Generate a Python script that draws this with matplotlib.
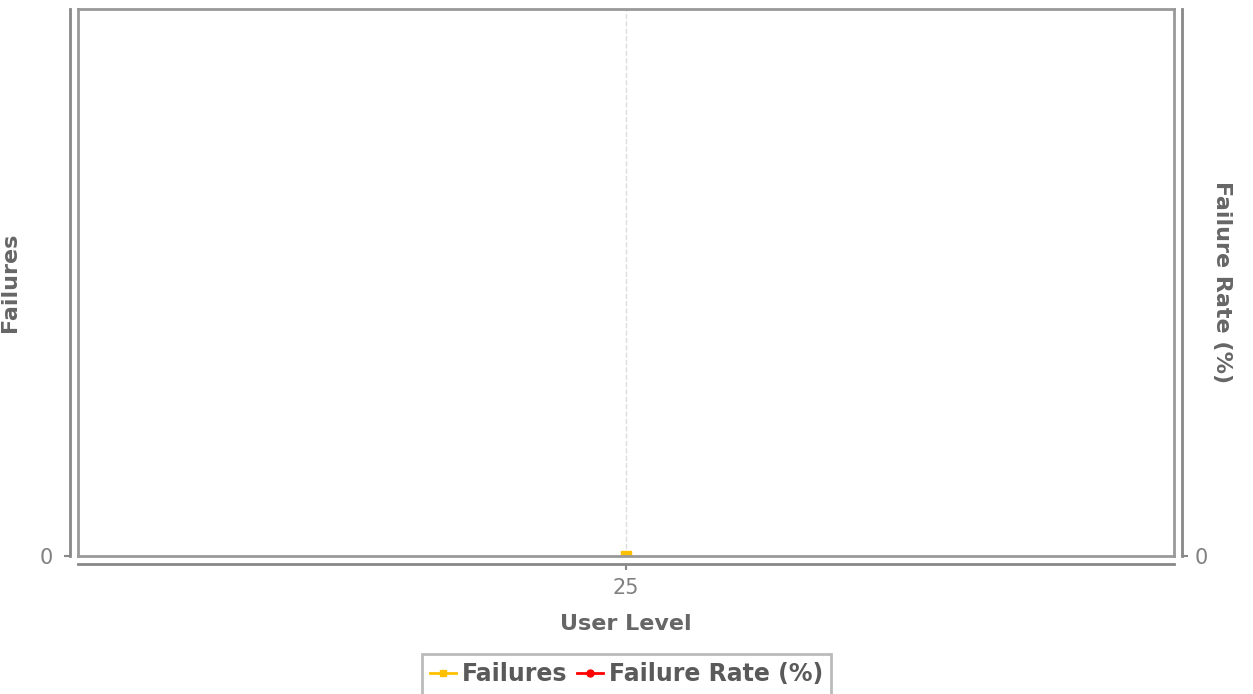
import matplotlib
matplotlib.use('Agg')
import matplotlib.pyplot as plt

# data
user_levels = [25]
failures = [0]
failure_rate = [0]

W, H = 1253, 694
fig = plt.figure(figsize=(W / 100, H / 100), dpi=100)
pos = [78 / W, (H - 556) / H, (1174 - 78) / W, (556 - 9) / H]

grey_txt = '#666666'
tick_txt = '#808080'
axis_col = '#888888'

# axes with the outward (offset) axis lines, ticks and labels
ax = fig.add_axes(pos)
ax.patch.set_visible(False)
ax.spines['top'].set_visible(False)
ax.spines['right'].set_visible(False)
for s in ('left', 'bottom'):
    ax.spines[s].set_position(('outward', 6))
    ax.spines[s].set_color(axis_col)
    ax.spines[s].set_linewidth(2)

x = list(range(len(user_levels)))
ax.set_xlim(-1, 1)
ax.set_ylim(0, 1)
ax.set_xticks(x)
ax.set_xticklabels([str(v) for v in user_levels])
ax.set_yticks([0])
ax.tick_params(axis='both', colors=axis_col, labelcolor=tick_txt, labelsize=15, length=4, width=1.5)
ax.tick_params(axis='x', pad=6)
ax.tick_params(axis='y', pad=8)
ax.xaxis.grid(True, color='#dddddd', linestyle='--', linewidth=1)
ax.set_axisbelow(True)
ax.set_xlabel('User Level', fontsize=16, fontweight='bold', color=grey_txt, labelpad=11)
ax.set_ylabel('Failures', fontsize=16, fontweight='bold', color=grey_txt)
ax.yaxis.set_label_coords(-0.053, 0.5)

axr = ax.twinx()
axr.set_ylim(0, 1)
for s in ('left', 'bottom', 'top'):
    axr.spines[s].set_visible(False)
axr.spines['right'].set_position(('outward', 6))
axr.spines['right'].set_color(axis_col)
axr.spines['right'].set_linewidth(2)
axr.set_yticks([0])
axr.tick_params(axis='y', colors=axis_col, labelcolor=tick_txt, labelsize=15, length=4, width=1.5, pad=5)
axr.set_ylabel('Failure Rate (%)', fontsize=16, fontweight='bold', color=grey_txt, rotation=270)
axr.yaxis.set_label_coords(1.053, 0.5)

# series
lr, = axr.plot(x, failure_rate, color='#ff0000', marker='o', markersize=6, linewidth=2,
               label='Failure Rate (%)', zorder=2)
lf, = axr.plot(x, failures, color='#ffc000', marker='s', markersize=7, linewidth=2,
               label='Failures', zorder=3)

# plot frame
frame = fig.add_axes(pos, zorder=5)
frame.patch.set_visible(False)
frame.set_xticks([])
frame.set_yticks([])
for s in frame.spines.values():
    s.set_color('#999999')
    s.set_linewidth(2)

leg = fig.legend(handles=[lf, lr], loc='upper center', bbox_to_anchor=(0.5, 40 / H),
                 ncol=2, frameon=True, fancybox=False, handlelength=1.1, handletextpad=0.25,
                 columnspacing=0.4, borderpad=0.35, borderaxespad=0,
                 prop={'size': 17, 'weight': 'bold'})
for h in leg.legend_handles:
    h.set_markersize(5)
leg.get_frame().set_edgecolor('#aaaaaa')
leg.get_frame().set_linewidth(2)
for t in leg.get_texts():
    t.set_color('#5a5a5a')

fig.savefig('out.png', dpi=100)
